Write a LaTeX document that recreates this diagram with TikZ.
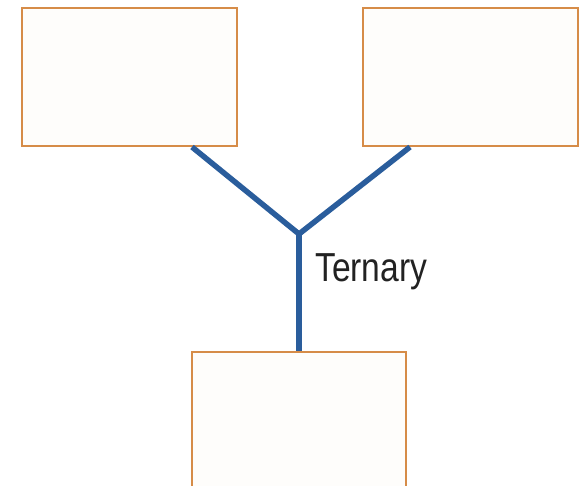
\documentclass[tikz,border=0pt]{standalone}
\usepackage{fontspec}
\setmainfont{Liberation Sans}
\definecolor{boxborder}{HTML}{D68C48}
\definecolor{boxfill}{HTML}{FEFDFB}
\definecolor{linkblue}{HTML}{2A5D9C}
\definecolor{textgray}{HTML}{222222}
\begin{document}
\begin{tikzpicture}[x=1pt,y=-1pt,
  entity/.style={draw=boxborder,fill=boxfill,line width=2pt},
  link/.style={draw=linkblue,line width=5.5pt},
  lbl/.style={text=textgray,font=\fontsize{40.5}{40.5}\selectfont,inner sep=0pt,anchor=base west,xscale=0.83}]
\useasboundingbox (0,0) rectangle (580,486);
\fill[white] (0,0) rectangle (580,486);
\begin{scope}
\clip (0,0) rectangle (580,486);
\draw[entity] (22,8) rectangle (237,146);
\draw[entity] (363,8) rectangle (578,146);
\draw[entity] (192,352) rectangle (406,500);
\end{scope}
\coordinate (a) at (192,147);
\coordinate (b) at (410,147);
\coordinate (j) at (299,234);
\coordinate (c) at (299,351);
\draw[link,line join=miter] (a) -- (j) -- (b);
\draw[link] (j) -- (c);
\node[lbl] (t) at (315,281.5) {Ternary};
\end{tikzpicture}
\end{document}
